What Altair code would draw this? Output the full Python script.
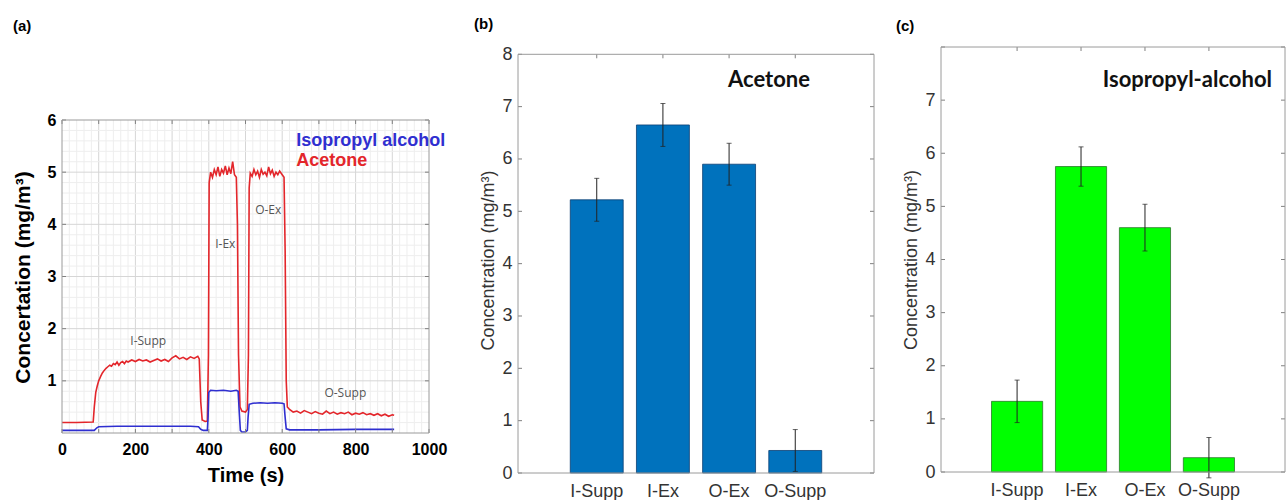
import altair as alt
import pandas as pd

# ---------------- Panel (a): time series ----------------
acetone_time = [0, 40, 85, 88, 92, 96, 100, 105, 110, 115, 120, 125, 130, 135, 140, 145,
                150, 155, 160, 165, 170, 175, 180, 190, 200, 210, 220, 230, 240, 250,
                260, 270, 280, 290, 300, 310, 320, 330, 340, 350, 360, 370, 374, 378,
                382, 390, 396, 399, 401, 405, 410, 415, 420, 425, 430, 435, 440, 445,
                450, 455, 460, 465, 470, 475, 478, 481, 485, 490, 500, 505, 508, 510,
                513, 518, 523, 528, 533, 538, 543, 548, 553, 558, 563, 568, 573, 578,
                583, 588, 593, 600, 605, 608, 611, 614, 620, 630, 640, 650, 660, 670,
                680, 690, 700, 710, 720, 730, 740, 750, 760, 770, 780, 790, 800, 810,
                820, 830, 840, 850, 860, 870, 880, 890, 900, 905]
acetone_conc = [0.2, 0.2, 0.21, 0.5, 0.78, 0.9, 1.0, 1.08, 1.15, 1.2, 1.24, 1.27, 1.3, 1.28,
                1.33, 1.31, 1.36, 1.3, 1.35, 1.37, 1.33, 1.38, 1.36, 1.4, 1.37, 1.41, 1.38,
                1.4, 1.36, 1.39, 1.42, 1.38, 1.41, 1.37, 1.44, 1.48, 1.42, 1.45, 1.41, 1.46,
                1.43, 1.47, 1.42, 0.6, 0.25, 0.22, 0.23, 1.5, 4.8, 5.0, 4.9, 5.05, 4.95,
                5.1, 4.92, 5.05, 4.98, 5.12, 4.95, 5.08, 4.97, 5.2, 4.95, 4.9, 4.0, 1.5,
                0.5, 0.42, 0.4, 0.45, 1.5, 4.7, 4.98, 4.92, 5.05, 4.95, 5.02, 4.9, 5.05,
                4.96, 5.0, 4.93, 5.1, 4.97, 5.04, 4.92, 5.0, 4.95, 5.02, 4.95, 4.9, 3.5,
                1.0, 0.5, 0.45, 0.4, 0.42, 0.38, 0.43, 0.4, 0.37, 0.41, 0.38, 0.36, 0.42,
                0.37, 0.4, 0.36, 0.39, 0.37, 0.4, 0.35, 0.38, 0.36, 0.39, 0.35, 0.37, 0.34,
                0.37, 0.33, 0.36, 0.32, 0.35, 0.34]
ipa_time = [0, 88, 95, 100, 150, 200, 250, 300, 350, 372, 378, 385, 396, 398, 400, 405,
            420, 440, 460, 475, 480, 483, 486, 490, 500, 505, 507, 510, 520, 540, 560,
            580, 600, 605, 608, 611, 620, 700, 800, 900, 905]
ipa_conc = [0.05, 0.05, 0.1, 0.12, 0.13, 0.13, 0.13, 0.13, 0.13, 0.12, 0.07, 0.05, 0.05,
            0.3, 0.78, 0.82, 0.81, 0.82, 0.8, 0.82, 0.8, 0.4, 0.05, 0.02, 0.02, 0.05, 0.3,
            0.55, 0.57, 0.58, 0.57, 0.58, 0.57, 0.56, 0.3, 0.08, 0.06, 0.06, 0.07, 0.07,
            0.07]

phase_labels = ["I-Supp", "I-Ex", "O-Ex", "O-Supp"]
phase_label_t = [235, 445, 562, 772]
phase_label_v = [1.77, 3.62, 4.28, 0.77]

legend_labels = ["Isopropyl alcohol", "Acetone"]
legend_t = [638, 638]
legend_v = [5.6, 5.22]

x_ticks_a = [0, 200, 400, 600, 800, 1000]
y_ticks_a = [1, 2, 3, 4, 5, 6]

# ---------------- Panels (b) and (c): bar values ----------------
categories = ["I-Supp", "I-Ex", "O-Ex", "O-Supp"]
acetone_mean = [5.22, 6.65, 5.9, 0.43]
acetone_err = [0.41, 0.41, 0.4, 0.4]
ipa_mean = [1.33, 5.75, 4.6, 0.27]
ipa_err = [0.4, 0.37, 0.44, 0.38]
y_ticks_b = [0, 1, 2, 3, 4, 5, 6, 7, 8]
y_ticks_c = [0, 1, 2, 3, 4, 5, 6, 7]

FONT = "Liberation Sans"
RED = "#e3262b"
BLUE = "#2f2fd0"
BOX = "#9a9a9a"
TICK = "#808080"

# plot geometry (all panels share a common view top; boxes drawn at their own top)
W_A, H_A = 367, 386
A_TOP = 6
A_DOM = 6 * 386 / 313
W_B, H_B = 356, 426
B_TOP = 8
B_DOM = 8 * 426 / 418.7
W_C, H_C = 344, 425
C_TOP = 8
C_DOM = 8
TAG_OFFSET = 13


def box_layers(width, top, yscale):
    one = pd.DataFrame({"k": [0]})
    return [
        alt.Chart(one).mark_rule(color=BOX).encode(
            y=alt.datum(top, scale=yscale), x=alt.value(0), x2=alt.value(width)),
        alt.Chart(one).mark_rule(color=BOX).encode(
            y=alt.datum(0, scale=yscale), x=alt.value(0), x2=alt.value(width)),
        alt.Chart(one).mark_rule(color=BOX).encode(
            x=alt.value(0), y=alt.datum(0, scale=yscale), y2=alt.datum(top)),
        alt.Chart(one).mark_rule(color=BOX).encode(
            x=alt.value(width), y=alt.datum(0, scale=yscale), y2=alt.datum(top)),
    ]


# ---------------- Panel (a) ----------------
ts = pd.DataFrame({
    "t": acetone_time + ipa_time,
    "v": acetone_conc + ipa_conc,
    "s": ["Acetone"] * len(acetone_time) + ["Isopropyl alcohol"] * len(ipa_time),
})
xs = alt.Scale(domain=[0, 1000], nice=False, zero=False)
ys = alt.Scale(domain=[0, A_DOM], nice=False, zero=False)
cs = alt.Scale(domain=["Acetone", "Isopropyl alcohol"], range=[RED, BLUE])

grid_t_minor = pd.DataFrame({"t": [t for t in range(0, 1001, 20) if t % 100]})
grid_t_major = pd.DataFrame({"t": list(range(100, 1000, 100))})
grid_v_minor = pd.DataFrame({"v": [round(i * 0.2, 1) for i in range(1, 30) if i % 5]})
grid_v_major = pd.DataFrame({"v": [1, 2, 3, 4, 5]})

grid_layers = []
for df, col in [(grid_t_minor, "#eeeeee"), (grid_t_major, "#d6d6d6")]:
    grid_layers.append(alt.Chart(df).mark_rule(color=col).encode(
        x=alt.X("t:Q", scale=xs), y=alt.datum(0, scale=ys), y2=alt.datum(A_TOP)))
for df, col in [(grid_v_minor, "#eeeeee"), (grid_v_major, "#d6d6d6")]:
    grid_layers.append(alt.Chart(df).mark_rule(color=col).encode(
        y=alt.Y("v:Q", scale=ys), x=alt.value(0), x2=alt.value(W_A)))

lines = alt.Chart(ts).mark_line(strokeWidth=1.6).encode(
    x=alt.X("t:Q", scale=xs, axis=alt.Axis(
        values=x_ticks_a, format="d", labelOverlap=False, labelFlush=False, grid=False,
        ticks=False, domain=False, labelFont=FONT, labelFontSize=16, labelFontWeight="bold",
        labelColor="black", labelPadding=8, title="Time (s)", titleFont=FONT,
        titleFontSize=20, titleFontWeight="bold", titleColor="black", titlePadding=8)),
    y=alt.Y("v:Q", scale=ys, axis=alt.Axis(
        values=y_ticks_a, format="d", labelOverlap=False, grid=False, ticks=False,
        domain=False, labelFont=FONT, labelFontSize=16, labelFontWeight="bold",
        labelColor="black", labelPadding=6, title="Concertation (mg/m³)", titleFont=FONT,
        titleFontSize=21, titleFontWeight="bold", titleColor="black", titlePadding=14,
        titleY=230)),
    color=alt.Color("s:N", scale=cs, legend=None),
)

xt_a = pd.DataFrame({"t": list(range(0, 1001, 100))})
yt_a = pd.DataFrame({"v": y_ticks_a})
ticks_a = [
    alt.Chart(xt_a).mark_rule(color=TICK, y2Offset=4).encode(
        x=alt.X("t:Q", scale=xs), y=alt.datum(A_TOP, scale=ys), y2=alt.datum(A_TOP)),
    alt.Chart(xt_a).mark_rule(color=TICK, y2Offset=-4).encode(
        x=alt.X("t:Q", scale=xs), y=alt.datum(0, scale=ys), y2=alt.datum(0)),
    alt.Chart(yt_a).mark_rule(color=TICK).encode(
        y=alt.Y("v:Q", scale=ys), x=alt.value(0), x2=alt.value(4)),
    alt.Chart(yt_a).mark_rule(color=TICK).encode(
        y=alt.Y("v:Q", scale=ys), x=alt.value(W_A - 4), x2=alt.value(W_A)),
]

ann = pd.DataFrame({"t": phase_label_t, "v": phase_label_v, "label": phase_labels})
ann_text = alt.Chart(ann).mark_text(font="Open Sans", fontSize=12, color="#555555").encode(
    x=alt.X("t:Q", scale=xs), y=alt.Y("v:Q", scale=ys), text="label:N")

leg = pd.DataFrame({"t": legend_t, "v": legend_v, "label": legend_labels,
                    "s": ["Isopropyl alcohol", "Acetone"]})
leg_text = alt.Chart(leg).mark_text(font=FONT, fontSize=18, fontWeight="bold", align="left").encode(
    x=alt.X("t:Q", scale=xs), y=alt.Y("v:Q", scale=ys), text="label:N",
    color=alt.Color("s:N", scale=cs, legend=None))

panel_a = alt.layer(*grid_layers, lines, *ticks_a, *box_layers(W_A, A_TOP, ys),
                    ann_text, leg_text).properties(
    width=W_A, height=H_A,
    title=alt.TitleParams("(a)", anchor="start", frame="group", offset=TAG_OFFSET, dx=-49,
                          font=FONT, fontSize=15, fontWeight="bold", color="black"))


# ---------------- Panels (b), (c) ----------------
def bar_panel(means, errs, fill, edge, width, height, top, dom, label_vals, name, name_x,
              name_align, tag, tag_dx):
    df = pd.DataFrame({
        "phase": categories,
        "mean": means,
        "lo": [m - e for m, e in zip(means, errs)],
        "hi": [m + e for m, e in zip(means, errs)],
    })
    xscale = alt.Scale(domain=categories, paddingInner=0.2, paddingOuter=0.79)
    yscale = alt.Scale(domain=[0, dom], nice=False, zero=True)
    bars = alt.Chart(df).mark_bar(color=fill, stroke=edge, strokeWidth=0.8).encode(
        x=alt.X("phase:N", sort=categories, scale=xscale, axis=alt.Axis(
            title=None, labelAngle=0, ticks=False, domain=False, labelFont=FONT,
            labelFontSize=18, labelColor="#333333", labelPadding=9)),
        y=alt.Y("mean:Q", scale=yscale, axis=alt.Axis(
            values=label_vals, format="d", ticks=False, domain=False, grid=False,
            labelFont=FONT, labelFontSize=18, labelColor="#333333", labelPadding=6,
            title="Concentration (mg/m³)", titleFont=FONT, titleFontSize=18,
            titleFontWeight="normal", titleColor="#333333", titlePadding=4)),
    )
    err = alt.Chart(df).mark_rule(color="#222222", strokeWidth=1).encode(
        x=alt.X("phase:N", sort=categories, scale=xscale),
        y=alt.Y("lo:Q", scale=yscale), y2="hi:Q")
    cap_lo = alt.Chart(df).mark_tick(color="#222222", size=5, thickness=1).encode(
        x=alt.X("phase:N", sort=categories, scale=xscale), y=alt.Y("lo:Q", scale=yscale))
    cap_hi = alt.Chart(df).mark_tick(color="#222222", size=5, thickness=1).encode(
        x=alt.X("phase:N", sort=categories, scale=xscale), y=alt.Y("hi:Q", scale=yscale))
    yt = pd.DataFrame({"mean": [v for v in range(0, 9) if v <= top]})
    ticks = [
        alt.Chart(df).mark_rule(color=TICK, y2Offset=4).encode(
            x=alt.X("phase:N", sort=categories, scale=xscale),
            y=alt.datum(top, scale=yscale), y2=alt.datum(top)),
        alt.Chart(yt).mark_rule(color=TICK).encode(
            y=alt.Y("mean:Q", scale=yscale), x=alt.value(0), x2=alt.value(4)),
        alt.Chart(yt).mark_rule(color=TICK).encode(
            y=alt.Y("mean:Q", scale=yscale), x=alt.value(width - 4), x2=alt.value(width)),
    ]
    name_df = pd.DataFrame({"label": [name]})
    name_text = alt.Chart(name_df).mark_text(
        font="Lato", fontSize=22, fontWeight="bold", color="#111111", align=name_align).encode(
        text="label:N", x=alt.value(name_x), y=alt.value(33))
    return alt.layer(bars, err, cap_lo, cap_hi, *ticks, *box_layers(width, top, yscale),
                     name_text).properties(
        width=width, height=height,
        title=alt.TitleParams(tag, anchor="start", frame="group", offset=TAG_OFFSET, dx=tag_dx,
                              font=FONT, fontSize=15, fontWeight="bold", color="black"))


panel_b = bar_panel(acetone_mean, acetone_err, "#0072BD", "#0b3f73", W_B, H_B, B_TOP, B_DOM,
                    y_ticks_b, "Acetone", 251, "center", "(b)", -44)
panel_c = bar_panel(ipa_mean, ipa_err, "#00FF00", "#2b7a2b", W_C, H_C, C_TOP, C_DOM,
                    y_ticks_c, "Isopropyl-alcohol", 331, "right", "(c)", -45)

chart = alt.hconcat(panel_a, alt.hconcat(panel_b, panel_c, spacing=21), spacing=27).properties(
    padding={"left": 12, "top": 17, "right": 0, "bottom": 0}
).configure_view(strokeOpacity=0)

chart.save("out.html", embed_options={"renderer": "svg", "actions": False})
